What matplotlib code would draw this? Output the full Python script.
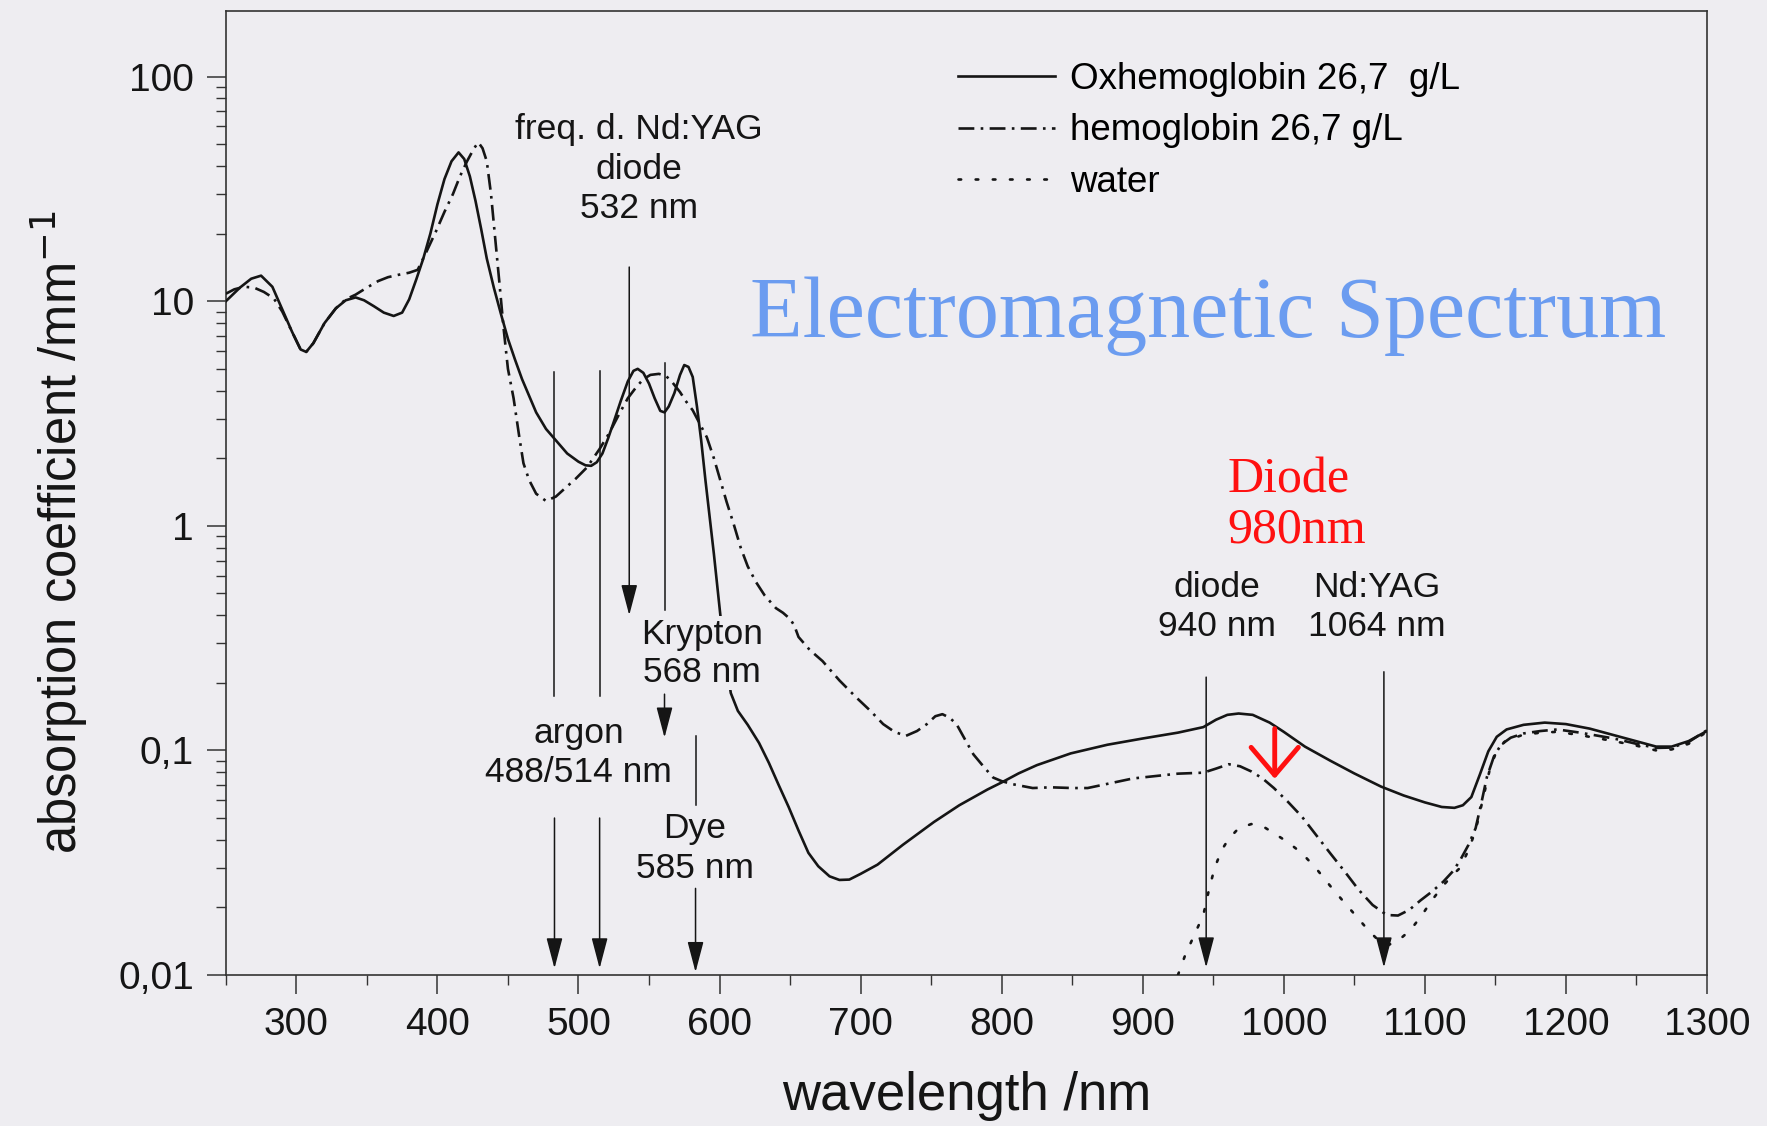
import matplotlib.pyplot as plt
from matplotlib.ticker import FixedLocator, FixedFormatter, LogLocator, NullFormatter, MultipleLocator

plt.rcParams['font.family'] = ['Liberation Sans', 'DejaVu Sans']

# oxyhemoglobin (solid)
oxy_nm = [250, 260, 268, 275, 283, 290, 297, 303, 307, 312, 320, 328, 335, 342, 348, 355, 362, 369,
          375, 380, 385, 390, 395, 400, 405, 410, 415, 419, 423, 427, 431, 435, 440, 445, 450, 455,
          460, 465, 470, 477, 484, 492, 500, 505, 509, 513, 517, 521, 525, 530, 535, 539, 542, 546,
          550, 554, 558, 561, 564, 568, 572, 575, 578, 581, 584, 587, 590, 593, 596, 599, 602, 605,
          608, 613, 620, 628, 635, 642, 649, 656, 663, 670, 678, 685, 692, 700, 712, 730, 752, 770,
          790, 800, 812, 825, 849, 875, 900, 925, 943, 952, 960, 968, 978, 990, 1000, 1015, 1033,
          1050, 1069, 1085, 1100, 1112, 1121, 1127, 1133, 1139, 1145, 1151, 1158, 1170, 1185, 1200,
          1217, 1234, 1250, 1264, 1275, 1287, 1300]
oxy_val = [10.0, 11.5, 12.6, 13.0, 11.6, 9.2, 7.3, 6.1, 5.95, 6.5, 8.0, 9.3, 10.1, 10.4, 10.1, 9.5, 8.9, 8.6,
           8.9, 10.2, 12.5, 15.5, 20, 27, 35, 42, 46, 43, 36, 28, 21, 15.5, 11.5, 8.8, 6.8, 5.5,
           4.5, 3.8, 3.2, 2.7, 2.4, 2.1, 1.93, 1.86, 1.85, 1.92, 2.1, 2.45, 2.9, 3.6, 4.4, 4.9, 5.0, 4.8,
           4.3, 3.7, 3.25, 3.2, 3.4, 3.9, 4.7, 5.2, 5.1, 4.6, 3.4, 2.4, 1.6, 1.1, 0.75, 0.5, 0.33, 0.24,
           0.18, 0.15, 0.13, 0.108, 0.088, 0.07, 0.056, 0.044, 0.035, 0.0305, 0.0275, 0.0265, 0.0266,
           0.0282, 0.031, 0.038, 0.048, 0.057, 0.067, 0.072, 0.079, 0.086, 0.097, 0.106, 0.113, 0.12,
           0.127, 0.137, 0.144, 0.146, 0.144, 0.133, 0.121, 0.104, 0.09, 0.079, 0.069, 0.063, 0.0587,
           0.056, 0.0555, 0.057, 0.062, 0.078, 0.099, 0.115, 0.124, 0.13, 0.133, 0.131, 0.125, 0.117,
           0.11, 0.104, 0.104, 0.11, 0.122]

# hemoglobin (dash-dot)
hb_nm = [250, 256, 263, 270, 277, 284, 290, 297, 303, 307, 312, 320, 328, 335, 342, 350, 358, 365, 372,
         380, 386, 392, 399, 405, 411, 416, 421, 426, 429, 432, 435, 438, 441, 444, 447, 450, 454, 458,
         461, 465, 470, 477, 484, 491, 498, 506, 515, 522, 529, 535, 541, 546, 551, 557, 562, 566, 572,
         576, 581, 586, 591, 596, 600, 605, 610, 615, 620, 626, 632, 640, 645, 650, 653, 656, 664, 673,
         685, 697, 707, 716, 724, 732, 740, 747, 753, 758, 763, 768, 774, 780, 787, 794, 800, 808, 822,
         835, 850, 861, 875, 893, 910, 925, 943, 952, 961, 969, 977, 985, 993, 1003, 1013, 1023, 1033,
         1043, 1053, 1063, 1073, 1081, 1089, 1097, 1105, 1113, 1120, 1125, 1131, 1136, 1140, 1144,
         1149, 1154, 1161, 1170, 1182, 1194, 1210, 1234, 1250, 1264, 1275, 1287, 1300]
hb_val = [10.8, 11.3, 11.6, 11.5, 11.0, 10.3, 9.0, 7.3, 6.1, 5.95, 6.5, 8.0, 9.3, 10.2, 10.7, 11.5, 12.3,
          12.8, 13.1, 13.4, 13.8, 16.5, 20.5, 25, 30, 36, 42, 48, 51, 48, 42, 30, 19, 12, 7.5, 5.0, 3.7,
          2.5, 1.9, 1.6, 1.39, 1.29, 1.35, 1.48, 1.62, 1.82, 2.2, 2.6, 3.16, 3.7, 4.15, 4.5, 4.7, 4.75,
          4.65, 4.4, 3.94, 3.6, 3.27, 2.85, 2.48, 2.0, 1.64, 1.28, 1.02, 0.8, 0.66, 0.56, 0.49, 0.43,
          0.41, 0.385, 0.36, 0.32, 0.28, 0.25, 0.205, 0.172, 0.15, 0.131, 0.121, 0.116, 0.122, 0.131,
          0.142, 0.145, 0.14, 0.131, 0.112, 0.096, 0.085, 0.0757, 0.073, 0.0707, 0.068, 0.0685, 0.068,
          0.068, 0.071, 0.075, 0.077, 0.0788, 0.0796, 0.083, 0.0868, 0.085, 0.0806, 0.075, 0.068, 0.059,
          0.0506, 0.042, 0.0348, 0.029, 0.024, 0.0205, 0.0185, 0.0184, 0.0195, 0.0215, 0.0235, 0.026,
          0.029, 0.0324, 0.038, 0.045, 0.058, 0.076, 0.094, 0.106, 0.114, 0.119, 0.122, 0.124, 0.12,
          0.113, 0.107, 0.1026, 0.103, 0.109, 0.123]

# water (dotted)
water_nm = [925, 930, 936, 943, 947, 951, 956, 961, 968, 977, 985, 993, 1003, 1013, 1023, 1033, 1043,
            1053, 1060, 1067, 1073, 1081, 1090, 1098, 1105, 1113, 1120, 1125, 1131, 1136, 1141, 1146,
            1151, 1157, 1169, 1182, 1194, 1210, 1234, 1250, 1264, 1275, 1287, 1300]
water_val = [0.0100, 0.0122, 0.0148, 0.0185, 0.024, 0.030, 0.036, 0.0404, 0.045, 0.047, 0.046, 0.0428,
             0.039, 0.0348, 0.0298, 0.0249, 0.021, 0.0178, 0.0158, 0.0143, 0.0135, 0.0142, 0.0159,
             0.0185, 0.0215, 0.025, 0.028, 0.030, 0.036, 0.044, 0.06, 0.082, 0.1, 0.11, 0.117, 0.12,
             0.121, 0.117, 0.110, 0.105, 0.1, 0.101, 0.107, 0.121]

# laser marker lines: x, top, bottom (plain segments) and arrows
plain_segs = [(483, 4.83, 0.175), (515, 4.9, 0.175), (561, 5.3, 0.42), (583, 0.116, 0.057)]
arrow_segs = [(483, 0.05, 0.0107), (515, 0.05, 0.0107), (536, 14.2, 0.40), (561, 0.178, 0.114),
              (583, 0.0243, 0.0103), (945, 0.212, 0.0108), (1071, 0.224, 0.0108)]
labels = [("freq. d. Nd:YAG\ndiode\n532 nm", 542.8, 38.7),
          ("argon\n488/514 nm", 500.3, 0.0975),
          ("Dye\n585 nm", 582.5, 0.0366),
          ("diode\n940 nm", 952.5, 0.436),
          ("Nd:YAG\n1064 nm", 1065.7, 0.436)]

xticks = [300, 400, 500, 600, 700, 800, 900, 1000, 1100, 1200, 1300]
yticks = [0.01, 0.1, 1, 10, 100]
ytick_labels = ['0,01', '0,1', '1', '10', '100']

bg = '#eeedf1'
ink = '#151515'

fig = plt.figure(figsize=(17.67, 11.26), dpi=100, facecolor=bg)
ax = fig.add_axes([0.1278, 0.1341, 0.8382, 0.8561], facecolor=bg)

ax.plot(oxy_nm, oxy_val, color=ink, lw=1.9, label='Oxhemoglobin 26,7  g/L', zorder=3)
ax.plot(hb_nm, hb_val, color=ink, lw=1.9, ls=(0, (6, 2.4, 1, 2.4)), label='hemoglobin 26,7 g/L', zorder=3)
ax.plot(water_nm, water_val, color=ink, lw=1.9, ls=(0, (1, 5.5)), dash_capstyle='round',
        label='water', zorder=3)

for x, top, bot in plain_segs:
    ax.plot([x, x], [top, bot], color=ink, lw=1.1, zorder=2)
for x, top, bot in arrow_segs:
    ax.annotate('', xy=(x, bot), xytext=(x, top),
                arrowprops=dict(arrowstyle='-|>,head_length=0.95,head_width=0.25', mutation_scale=20,
                                color=ink, lw=1.1, shrinkA=0, shrinkB=0), zorder=2)

for txt, x, y in labels:
    ax.text(x, y, txt, ha='center', va='center', fontsize=25.5, color=ink, linespacing=1.25, zorder=4)
ax.text(587.4, 0.271, "Krypton\n568 nm", ha='center', va='center', fontsize=25.5, color=ink,
        linespacing=1.2, zorder=4, bbox=dict(facecolor=bg, edgecolor='none', pad=1))

ax.text(946.4, 8.6, 'Electromagnetic Spectrum', ha='center', va='center', fontsize=62,
        color='#6b9cf0', family=['Liberation Serif', 'DejaVu Serif'], zorder=5)
ax.text(960, 1.23, 'Diode\n980nm', ha='left', va='center', fontsize=36, color='#ff1010',
        family=['Liberation Serif', 'DejaVu Serif'], linespacing=1.1, zorder=5)
ax.annotate('', xy=(993.6, 0.0747), xytext=(993.6, 0.125),
            arrowprops=dict(arrowstyle='->,head_length=1.0,head_width=0.85', mutation_scale=20,
                            color='#ff1010', lw=3.5, shrinkA=0, shrinkB=0), zorder=5)

ax.set_yscale('log')
ax.set_xlim(250, 1300)
ax.set_ylim(0.01, 196)
ax.xaxis.set_major_locator(FixedLocator(xticks))
ax.xaxis.set_minor_locator(MultipleLocator(50))
ax.yaxis.set_major_locator(FixedLocator(yticks))
ax.yaxis.set_major_formatter(FixedFormatter(ytick_labels))
ax.yaxis.set_minor_locator(LogLocator(base=10, subs=range(2, 10)))
ax.yaxis.set_minor_formatter(NullFormatter())
ax.tick_params(which='major', length=14, width=1.1, color='#333', labelsize=28, labelcolor=ink, pad=9)
ax.tick_params(which='minor', length=7.5, width=1.0, color='#333')
for s in ax.spines.values():
    s.set_color('#333')
    s.set_linewidth(1.2)

ax.set_xlabel('wavelength /nm', fontsize=38, color=ink, labelpad=20)
ax.set_ylabel('absorption coefficient /mm$^{-1}$', fontsize=36.5, color=ink, labelpad=20, y=0.46)

ax.legend(loc='upper left', bbox_to_anchor=(0.542, 0.945), bbox_transform=fig.transFigure,
          frameon=False, fontsize=26.5, handlelength=2.65, handletextpad=0.4, labelspacing=0.45,
          borderpad=0, borderaxespad=0)

fig.savefig('out.png', dpi=100, facecolor=bg)
